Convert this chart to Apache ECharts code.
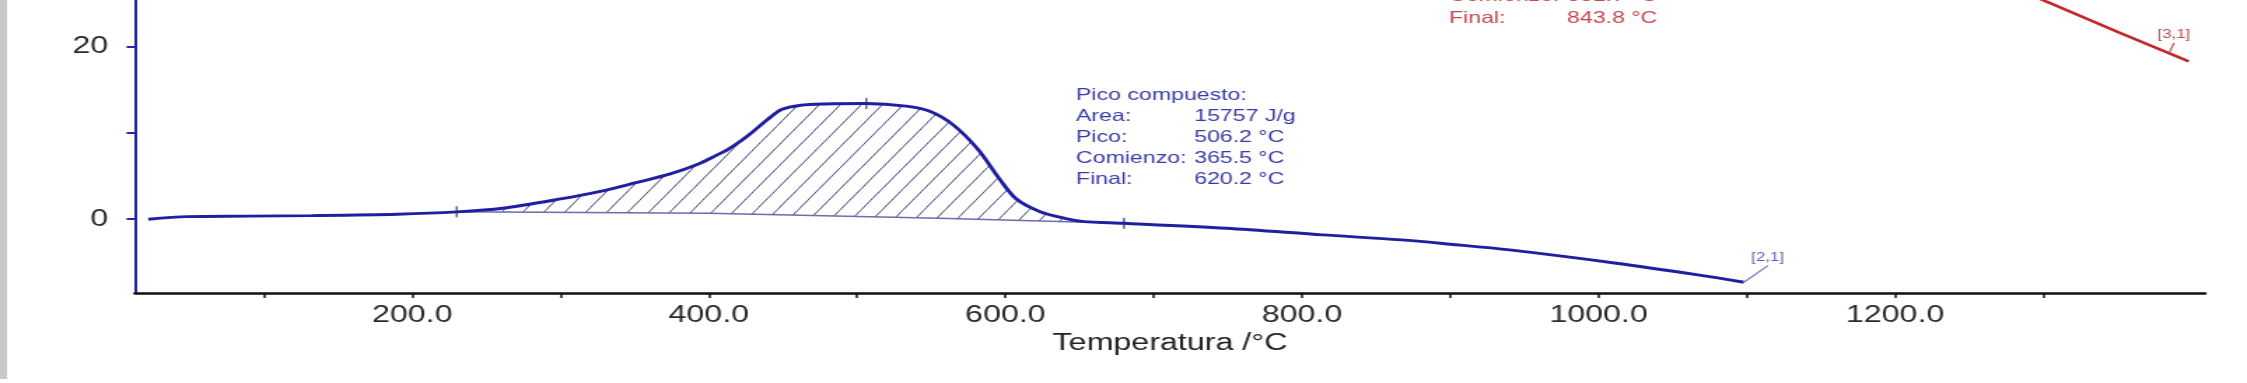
<!DOCTYPE html>
<html>
<head>
<meta charset="utf-8">
<script src="https://cdn.jsdelivr.net/npm/echarts@6/dist/echarts.min.js"></script>
<style>
html, body { margin: 0; padding: 0; background: #fff; overflow: hidden; }
/* la captura original esta estirada en horizontal, asi que se estira el lienzo */
#chart { width: 1605px; height: 383px; transform: scaleX(1.4); transform-origin: 0 0; }
</style>
</head>
<body>
<div id="chart"></div>
<script>
// curva DSC azul
var temps = [22, 48, 90, 132, 190, 230, 261, 300, 326, 350, 374, 393, 405, 413, 421, 428, 440, 449, 462, 478, 506, 533, 549, 565, 582, 595, 607, 623, 640, 653, 680, 749, 814, 867, 900, 940, 1012, 1067, 1098];
var dsc = [0, 0.3, 0.36, 0.42, 0.58, 0.85, 1.27, 2.35, 3.2, 4.2, 5.25, 6.4, 7.4, 8.1, 9.0, 9.9, 11.6, 12.7, 13.2, 13.35, 13.4, 13.1, 12.5, 10.9, 8.0, 4.9, 2.4, 0.9, 0.1, -0.28, -0.47, -1.05, -1.82, -2.4, -2.9, -3.56, -5.1, -6.45, -7.3];

// linea base del pico compuesto
var baseT = [230, 400, 555, 680];
var baseV = [0.85, 0.7, 0.1, -0.47];

// curva roja (cortada arriba)
var redT = [1280, 1305, 1350, 1398];
var redV = [26.8, 25.0, 21.7, 18.3];

// marcas de comienzo / pico / final
var markT = [230, 506.2, 680];
var markV = [0.85, 13.4, -0.47];

// ejes
var xTicks = [100, 200, 300, 400, 500, 600, 700, 800, 900, 1000, 1100, 1200, 1300];
var xLabels = [200, 400, 600, 800, 1000, 1200];
var yTicks = [0, 10, 20];
var yLabels = [0, 20];

// textos
var picoLbl = ['Pico compuesto:', 'Area:', 'Pico:', 'Comienzo:', 'Final:'];
var picoVal = ['', '15757 J/g', '506.2 °C', '365.5 °C', '620.2 °C'];
var rojoLbl = ['Comienzo:', 'Final:'];
var rojoVal = ['831.7 °C', '843.8 °C'];

var FONT = '"Liberation Sans", Arial, sans-serif';
var BLUE = '#1f1fa0';

// rayado del area
var hatch = document.createElement('canvas');
hatch.width = 15;
hatch.height = 21;
var g = hatch.getContext('2d');
g.strokeStyle = '#4a4a7e';
g.lineWidth = 1;
g.beginPath();
g.moveTo(-15, 42);
g.lineTo(30, -21);
g.stroke();

function hatchArea(params, api) {
    var pts = [];
    for (var i = 0; i < temps.length; i++) {
        if (temps[i] >= baseT[0] && temps[i] <= baseT[baseT.length - 1]) {
            pts.push(api.coord([temps[i], dsc[i]]));
        }
    }
    for (var j = baseT.length - 1; j >= 0; j--) {
        pts.push(api.coord([baseT[j], baseV[j]]));
    }
    return {
        type: 'polygon',
        shape: { points: pts },
        style: { fill: { image: hatch, repeat: 'repeat' }, stroke: null }
    };
}

function pairs(xs, ys) {
    var out = [];
    for (var i = 0; i < xs.length; i++) out.push([xs[i], ys[i]]);
    return out;
}

var texts = [];
texts.push({ type: 'rect', left: 0, top: 0, shape: { width: 5, height: 379 }, style: { fill: '#c9c9c9' } });
for (var i = 0; i < picoLbl.length; i++) {
    texts.push({ type: 'text', x: 768.6, y: 95 + i * 21, style: { text: picoLbl[i], fontSize: 16.5, fontFamily: FONT, fill: '#3a3aa8', verticalAlign: 'middle' } });
    texts.push({ type: 'text', x: 853, y: 95 + i * 21, style: { text: picoVal[i], fontSize: 16.5, fontFamily: FONT, fill: '#3a3aa8', verticalAlign: 'middle' } });
}
for (var i = 0; i < rojoLbl.length; i++) {
    texts.push({ type: 'text', x: 1035, y: -4 + i * 22, style: { text: rojoLbl[i], fontSize: 16.5, fontFamily: FONT, fill: '#c24a4e', verticalAlign: 'middle' } });
    texts.push({ type: 'text', x: 1119.3, y: -4 + i * 22, style: { text: rojoVal[i], fontSize: 16.5, fontFamily: FONT, fill: '#c24a4e', verticalAlign: 'middle' } });
}

var myChart = echarts.init(document.getElementById('chart'));
var option = {
    animation: false,
    backgroundColor: '#fff',
    grid: { left: 96.4, right: 30, top: 0, bottom: 90, containLabel: false, outerBoundsMode: 'none' },
    xAxis: {
        type: 'value',
        min: 13,
        max: 1409,
        name: 'Temperatura /°C',
        nameLocation: 'middle',
        nameGap: 35,
        nameTextStyle: { fontSize: 23, fontFamily: FONT, color: '#222' },
        axisLine: { onZero: false, lineStyle: { color: '#111', width: 2.5 } },
        axisTick: { show: true, customValues: xTicks, length: 5, lineStyle: { color: '#111', width: 1.5 } },
        axisLabel: {
            customValues: xLabels,
            formatter: function(v) { return v.toFixed(1); },
            margin: 11,
            fontSize: 23,
            fontFamily: FONT,
            color: '#2a2a2a'
        },
        splitLine: { show: false }
    },
    yAxis: {
        type: 'value',
        min: -8.55,
        max: 25.4,
        axisLine: { show: true, onZero: false, lineStyle: { color: '#2424a4', width: 2 } },
        axisTick: { show: true, customValues: yTicks, length: 6, lineStyle: { color: '#2424a4', width: 2 } },
        axisLabel: { customValues: yLabels, margin: 19, fontSize: 23, fontFamily: FONT, color: '#2a2a2a' },
        splitLine: { show: false }
    },
    graphic: texts,
    series: [{
            type: 'custom',
            name: 'area',
            renderItem: hatchArea,
            data: [[baseT[0], baseV[0]]],
            z: 1
        },
        {
            type: 'line',
            name: 'base',
            data: pairs(baseT, baseV),
            symbol: 'none',
            lineStyle: { color: '#6c6cae', width: 1.5 },
            z: 2
        },
        {
            type: 'line',
            name: 'DSC',
            data: pairs(temps, dsc),
            smooth: 0.3,
            symbol: 'none',
            lineStyle: { color: BLUE, width: 2.9 },
            z: 3
        },
        {
            type: 'line',
            name: 'rojo',
            data: pairs(redT, redV),
            symbol: 'none',
            lineStyle: { color: '#c4262a', width: 2.6 },
            z: 3
        },
        {
            type: 'scatter',
            name: 'marcas',
            data: pairs(markT, markV),
            symbol: 'rect',
            symbolSize: [1.4, 11],
            itemStyle: { color: '#303060' },
            z: 4
        },
        {
            type: 'line',
            name: '[2,1]',
            data: [[1098, -7.3], { value: [1114, -5.4], label: { show: true, position: 'top', distance: 2, formatter: '[2,1]' } }],
            symbol: 'circle',
            symbolSize: 1,
            showSymbol: true,
            itemStyle: { color: '#7a7ab8' },
            lineStyle: { color: '#7a7ab8', width: 1.2 },
            label: { fontSize: 12, fontFamily: FONT, color: '#6262b4' },
            z: 4
        },
        {
            type: 'line',
            name: '[3,1]',
            data: [[1385, 19.3], { value: [1388, 20.4], label: { show: true, position: 'top', distance: 2, formatter: '[3,1]' } }],
            symbol: 'circle',
            symbolSize: 1,
            showSymbol: true,
            itemStyle: { color: '#c04a4e' },
            lineStyle: { color: '#c04a4e', width: 1.2 },
            label: { fontSize: 12, fontFamily: FONT, color: '#c04a4e' },
            z: 4
        }
    ]
};
myChart.setOption(option);
</script>
</body>
</html>
